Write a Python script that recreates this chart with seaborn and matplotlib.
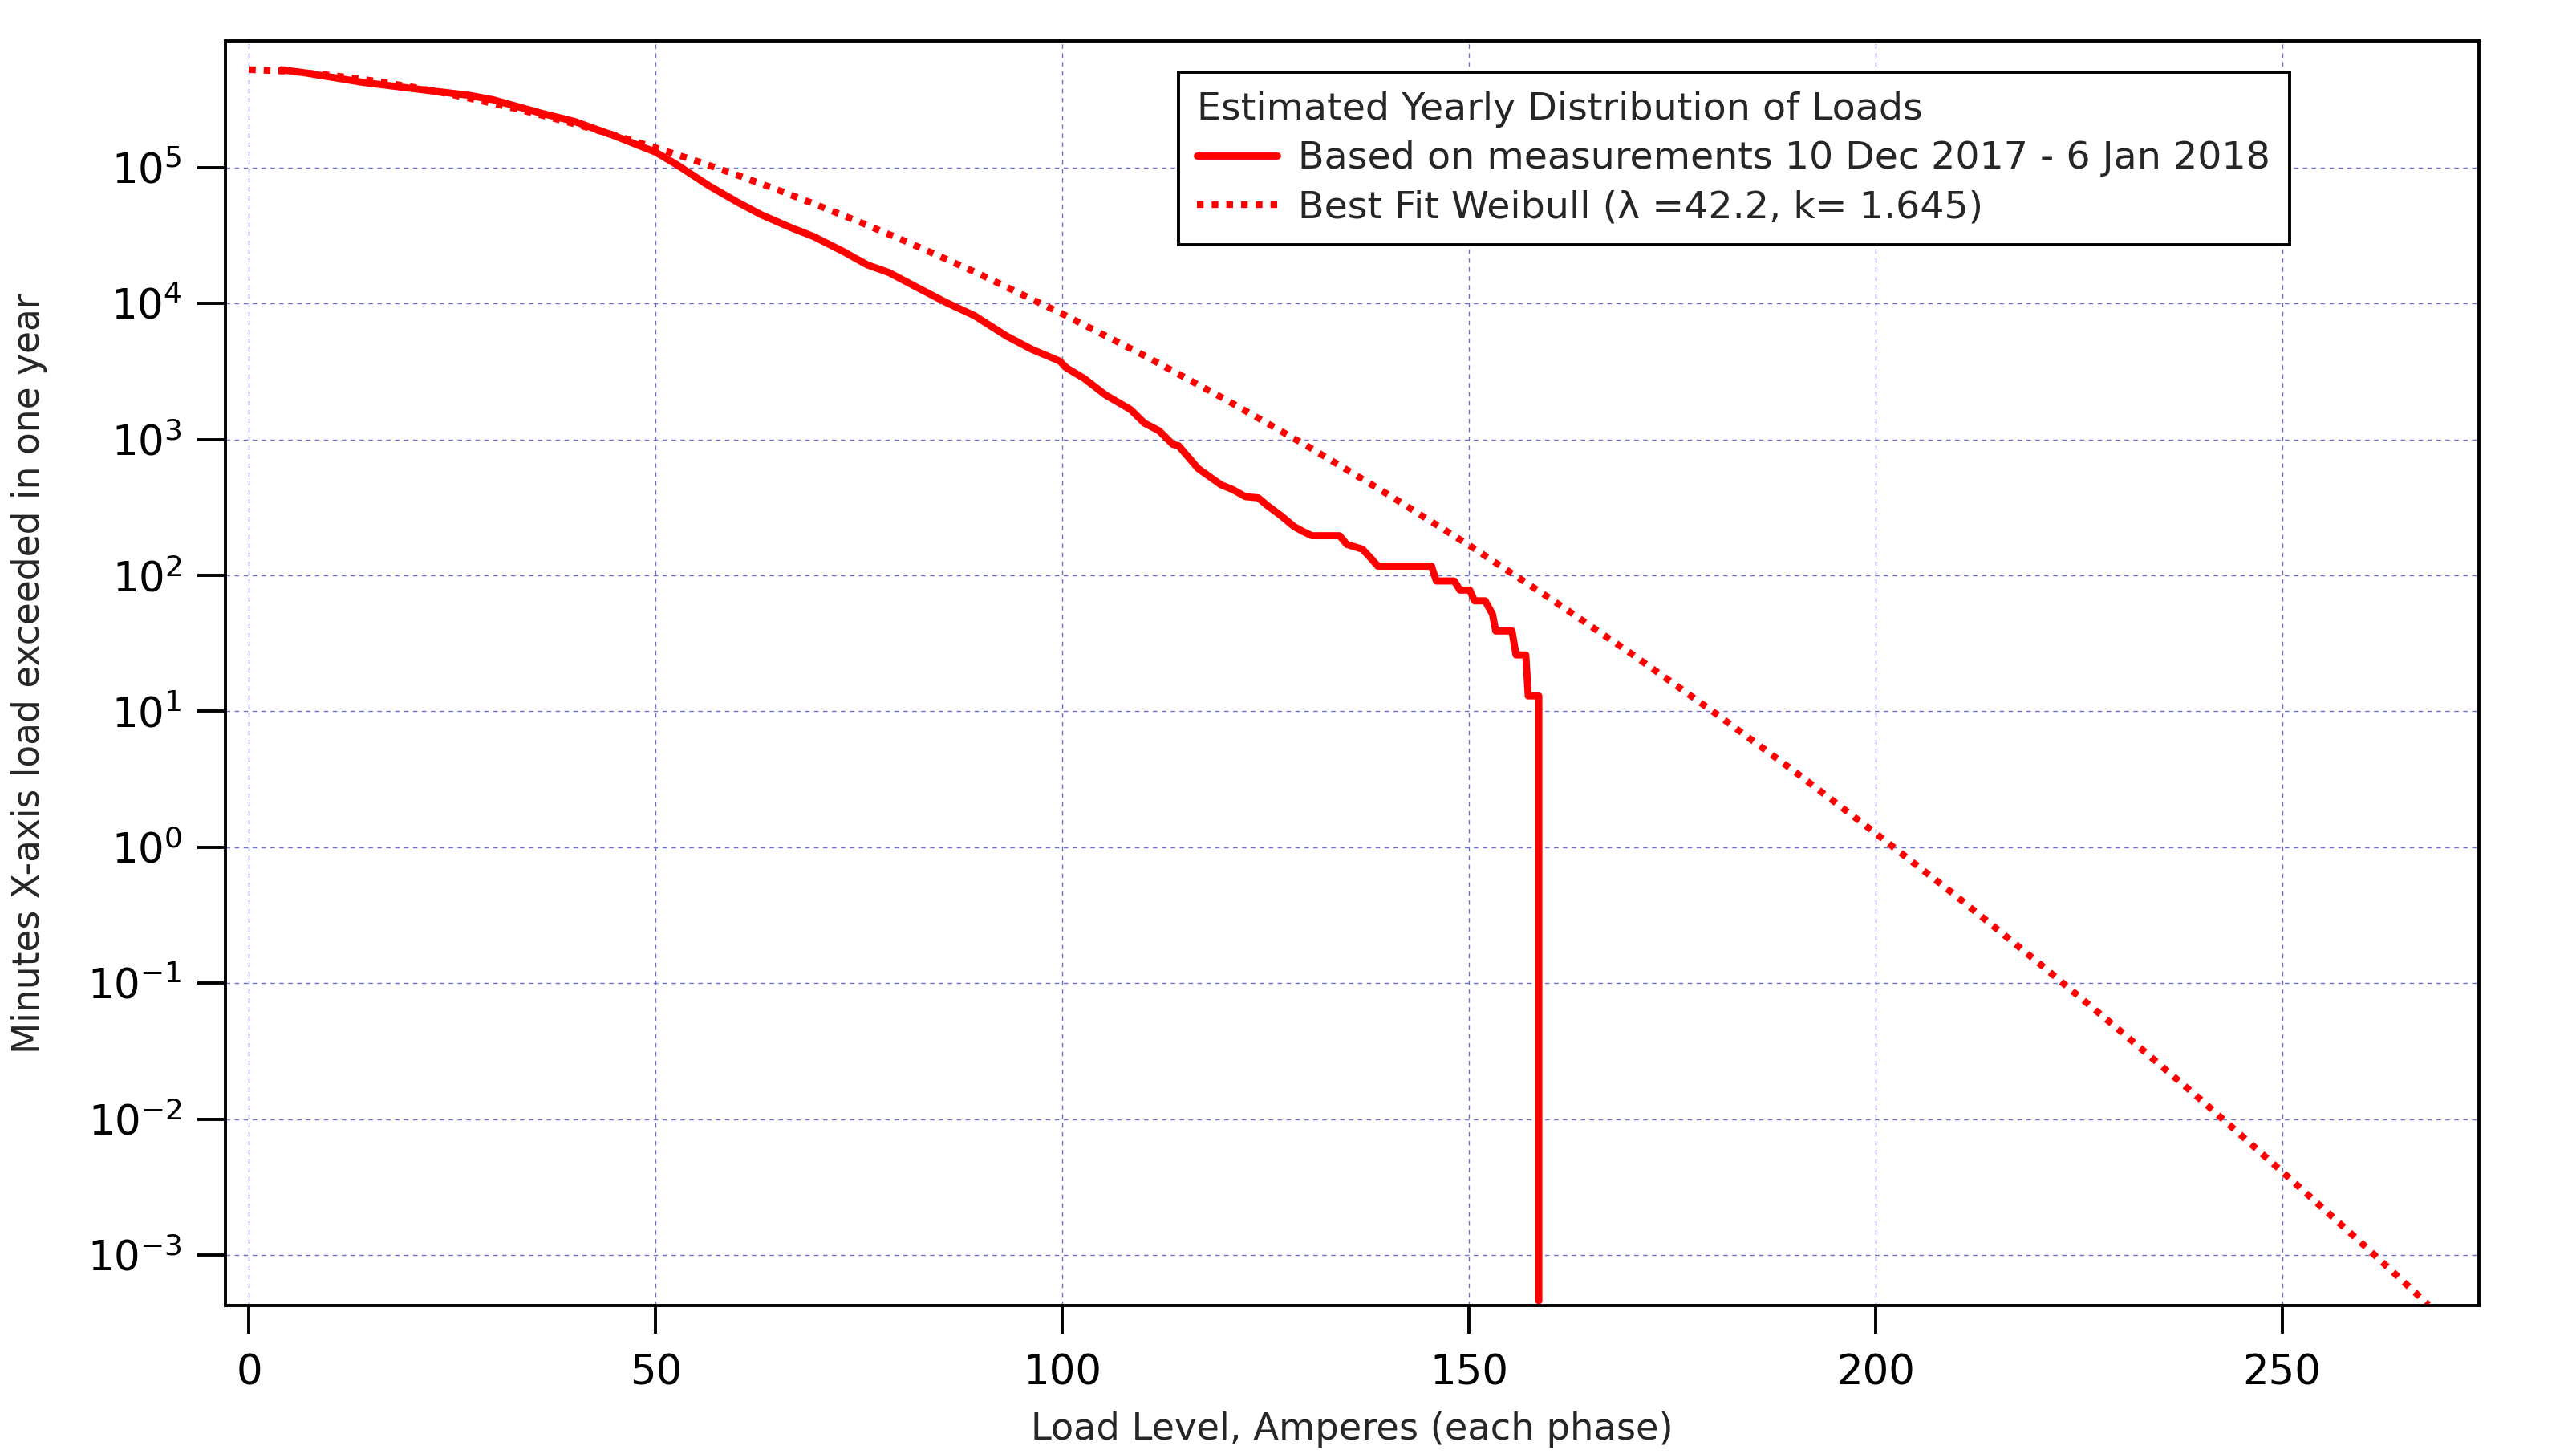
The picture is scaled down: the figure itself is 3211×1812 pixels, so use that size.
import numpy as np
import pandas as pd
import matplotlib
matplotlib.use("Agg")
import matplotlib.pyplot as plt
import matplotlib.ticker as mticker
import seaborn as sns

# --- data ---
# measured exceedance curve (amps, minutes per year)
measured_amps = [4.0, 7.0, 11.0, 14.0, 18.0, 22.0, 27.0, 30.0, 36.0, 40.0,
                 45.0, 50.0, 52.5, 56.5, 60.0, 63.0, 66.5, 69.5, 73.0, 76.0,
                 78.7, 82.2, 85.7, 89.2, 93.1, 96.2, 99.7, 100.5, 102.7, 105.3,
                 108.4, 110.1, 111.9, 113.6, 114.3, 116.7, 119.5, 121.0, 122.5, 124.1,
                 125.3, 126.9, 128.5, 129.7, 130.7, 134.1, 135.0, 136.9, 137.9, 138.8,
                 145.4, 146.0, 148.2, 148.9, 150.1, 150.7, 152.0, 152.9, 153.3, 155.3,
                 155.8, 157.0, 157.3, 158.6, 158.6]
measured_minutes = [5.25e5, 4.97e5, 4.54e5, 4.24e5, 3.96e5, 3.70e5, 3.41e5, 3.16e5, 2.51e5, 2.19e5,
                    1.71e5, 1.30e5, 1.06e5, 7.4e4, 5.6e4, 4.5e4, 3.65e4, 3.1e4, 2.43e4, 1.93e4,
                    1.69e4, 1.31e4, 1.02e4, 8150, 5790, 4620, 3770, 3370, 2810, 2130,
                    1660, 1320, 1160, 920, 900, 612, 465, 427, 380, 372,
                    324, 275, 229, 209, 196, 196, 169, 156, 135, 117,
                    117, 91, 91, 78, 78, 65, 65, 52, 39, 39,
                    26, 26, 13, 13, 4.6e-4]

# best fit Weibull curve (dotted)
weibull_amps = [0, 5, 10, 15, 20, 25, 30, 35, 40, 45,
                50, 55, 60, 65, 70, 75, 80, 85, 90, 95,
                100, 110, 120, 130, 140, 150, 160, 170, 180, 190,
                200, 210, 220, 230, 240, 250, 260, 268]
weibull_minutes = [5.26e5, 5.11e5, 4.79e5, 4.38e5, 3.93e5, 3.44e5, 2.97e5, 2.52e5, 2.10e5, 1.73e5,
                   1.40e5, 1.12e5, 8.83e4, 6.87e4, 5.27e4, 4.00e4, 3.00e4, 2.22e4, 1.63e4, 1.17e4,
                   8410, 4170, 1980, 904, 396, 167, 67.6, 26.5, 9.98, 3.63,
                   1.27, 0.434, 0.142, 0.0451, 0.0139, 0.00411, 0.00119, 0.00043]

x_ticks = [0, 50, 100, 150, 200, 250]
y_exponents = [-3, -2, -1, 0, 1, 2, 3, 4, 5]

label_measured = "Based on measurements 10 Dec 2017 - 6 Jan 2018"
label_weibull = "Best Fit Weibull (\u03bb =42.2, k= 1.645)"
legend_title = "Estimated Yearly Distribution of Loads"

# --- style ---
sns.set_style("ticks")
plt.rcParams['font.family'] = ['DejaVu Sans']
plt.rcParams['mathtext.fontset'] = 'dejavusans'
plt.rcParams['axes.edgecolor'] = 'black'
plt.rcParams['axes.linewidth'] = 1.4

fig, ax = plt.subplots(figsize=(16.06, 9.06), dpi=200)
fig.subplots_adjust(left=0.0875, right=0.962, top=0.9719, bottom=0.1021)

df_w = pd.DataFrame({"amps": weibull_amps, "minutes": weibull_minutes})
df_m = pd.DataFrame({"amps": measured_amps, "minutes": measured_minutes})

sns.lineplot(data=df_w, x="amps", y="minutes", ax=ax, color="#ff0000", lw=3.0,
             linestyle=(0, (1, 1.2)), estimator=None, sort=False, label=label_weibull)
sns.lineplot(data=df_m, x="amps", y="minutes", ax=ax, color="#ff0000", lw=3.2,
             estimator=None, sort=False, label=label_measured)

ax.set_yscale('log')
ax.set_xlim(-2.9, 274.2)
ax.set_ylim(10 ** -3.372, 10 ** 5.933)
ax.set_xticks(x_ticks)
ax.set_xticklabels([str(t) for t in x_ticks])
ax.yaxis.set_major_locator(mticker.FixedLocator([10.0 ** e for e in y_exponents]))
ax.yaxis.set_major_formatter(mticker.FuncFormatter(
    lambda v, p: r"$\mathregular{10^{%d}}$" % int(round(np.log10(v)))))
ax.yaxis.set_minor_locator(mticker.NullLocator())

ax.set_axisbelow(True)
ax.grid(True, which='major', color='#6e6ed0', lw=0.5, linestyle=(0, (4, 4)))

ax.tick_params(axis='both', direction='out', length=12.5, width=1.4,
               labelsize=18.5, colors='black')
ax.tick_params(axis='x', pad=9)
ax.tick_params(axis='y', pad=7)

for s in ax.spines.values():
    s.set_visible(True)
    s.set_linewidth(1.4)
    s.set_color('black')

ax.set_xlabel("Load Level, Amperes (each phase)", fontsize=16.7, labelpad=8)
ax.set_ylabel("Minutes X-axis load exceeded in one year", fontsize=16.4, labelpad=18)

handles, labels = ax.get_legend_handles_labels()
order = [labels.index(label_measured), labels.index(label_weibull)]
leg = ax.legend([handles[i] for i in order], [labels[i] for i in order],
                title=legend_title, loc='upper right', bbox_to_anchor=(0.916, 0.975),
                borderaxespad=0, fontsize=17.1, title_fontsize=17.1, alignment='left',
                frameon=True, fancybox=False, framealpha=1, edgecolor='black',
                handlelength=2.1, handletextpad=0.55, labelspacing=0.34, borderpad=0.5)
leg.get_frame().set_linewidth(1.4)

plt.savefig("out.png", dpi=200)
plt.close()
